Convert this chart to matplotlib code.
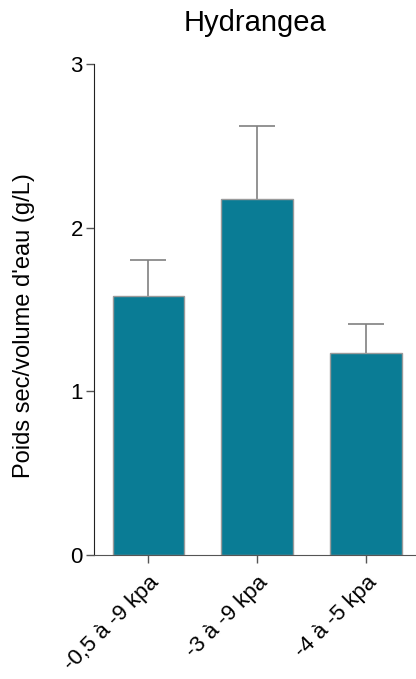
import matplotlib
matplotlib.use("Agg")
import matplotlib.pyplot as plt

plt.rcParams['font.family'] = ['Liberation Sans', 'DejaVu Sans']

categories = ["-0,5 à -9 kpa", "-3 à -9 kpa", "-4 à -5 kpa"]
means = [1.58, 2.175, 1.235]
errors = [0.22, 0.445, 0.175]

fig = plt.figure(figsize=(4.16, 6.79), dpi=100)
ax = fig.add_axes([0.226, 0.1826, 0.774, 0.7231])

x = range(len(categories))
eb = ax.errorbar(x, means, yerr=[[0]*len(errors), errors], fmt='none', ecolor="#808080",
                 elinewidth=1.2, capsize=13, capthick=1.2, zorder=1)
caps = eb[1]
if len(caps) >= 2:
    caps[0].set_visible(False)
ax.bar(x, means, width=0.66, color="#0a7c95", edgecolor="#9a9a9a", linewidth=1.0, zorder=2)

ax.set_xlim(-0.5, 2.46)
ax.set_ylim(0, 3)
ax.set_yticks([0, 1, 2, 3])
ax.set_xticks(list(x))
ax.set_xticklabels(categories, rotation=45, ha='right', rotation_mode='anchor', fontsize=16)
ax.tick_params(axis='y', labelsize=16, length=6, width=1, color="#555555", pad=2)
ax.tick_params(axis='x', length=6, width=1, color="#555555", pad=6)
for s in ['top', 'right']:
    ax.spines[s].set_visible(False)
ax.spines['left'].set_color("#222222")
ax.spines['bottom'].set_color("#555555")
ax.set_ylabel("Poids sec/volume d'eau (g/L)", fontsize=17)
ax.yaxis.set_label_coords(-0.183, 0.468)
ax.set_title("Hydrangea", fontsize=21, pad=24)

fig.savefig("out.png", dpi=100)
